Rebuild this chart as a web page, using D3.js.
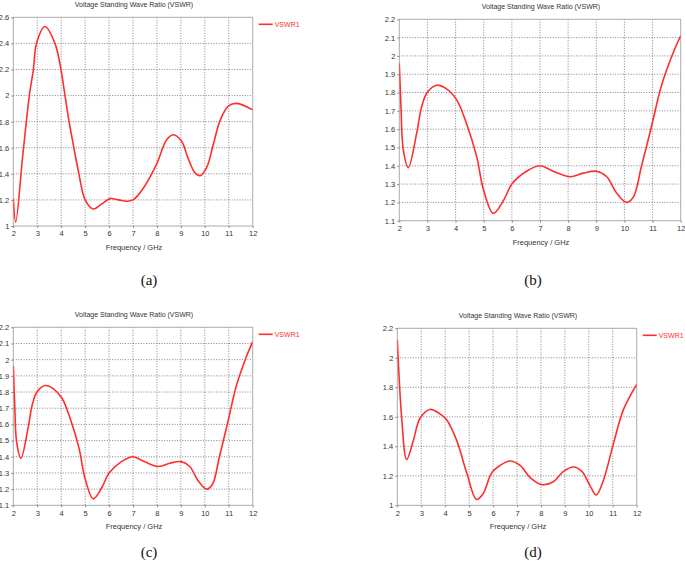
<!DOCTYPE html>
<html>
<head>
<meta charset="utf-8">
<script src="https://cdn.jsdelivr.net/npm/d3@7"></script>
<style>
body { margin: 0; background: #fff; }
svg { display: block; }
</style>
</head>
<body>
<svg id="chart" width="685" height="563"></svg>
<script>
// frequency (GHz) / VSWR samples
var freqA = [2.0, 2.1, 2.4, 2.67, 2.84, 2.97, 3.32, 3.74, 3.99, 4.16, 4.33, 4.53, 4.74, 5.0, 5.34, 5.7, 6.04, 6.4, 6.74, 7.0, 7.43, 8.0, 8.4, 8.69, 9.03, 9.3, 9.58, 9.8, 10.08, 10.36, 10.64, 10.99, 11.34, 12.0]
var vswrA = [1.21, 1.03, 1.55, 2.0, 2.2, 2.4, 2.53, 2.4, 2.2, 2.0, 1.8, 1.6, 1.4, 1.2, 1.13, 1.17, 1.21, 1.2, 1.19, 1.2, 1.29, 1.48, 1.66, 1.70, 1.65, 1.52, 1.41, 1.385, 1.45, 1.63, 1.81, 1.92, 1.94, 1.89]

var freqB = [2.0, 2.06, 2.14, 2.32, 2.62, 2.79, 2.99, 3.33, 3.68, 4.04, 4.39, 4.75, 4.99, 5.34, 5.7, 6.0, 6.52, 7.0, 7.47, 8.07, 8.54, 9.01, 9.37, 9.73, 10.08, 10.32, 10.61, 10.97, 11.32, 11.74, 12.0]
var vswrB = [1.96, 1.72, 1.49, 1.39, 1.58, 1.72, 1.80, 1.84, 1.82, 1.76, 1.63, 1.45, 1.27, 1.14, 1.21, 1.30, 1.37, 1.40, 1.37, 1.34, 1.36, 1.37, 1.34, 1.25, 1.20, 1.23, 1.40, 1.62, 1.84, 2.02, 2.11]

var freqC = freqB
var vswrC = vswrB

var freqD = [2.0, 2.05, 2.18, 2.39, 2.67, 2.95, 3.36, 3.78, 4.06, 4.48, 4.9, 5.31, 5.59, 5.94, 6.29, 6.71, 7.13, 7.54, 8.03, 8.52, 8.94, 9.36, 9.71, 10.06, 10.31, 10.61, 11.03, 11.45, 12.0]
var vswrD = [2.12, 1.95, 1.60, 1.31, 1.44, 1.59, 1.65, 1.62, 1.58, 1.44, 1.22, 1.04, 1.08, 1.22, 1.27, 1.30, 1.27, 1.19, 1.14, 1.16, 1.23, 1.26, 1.23, 1.13, 1.07, 1.17, 1.42, 1.65, 1.82]

var xTicks = [2, 3, 4, 5, 6, 7, 8, 9, 10, 11, 12]
var yTicksA = [1, 1.2, 1.4, 1.6, 1.8, 2, 2.2, 2.4, 2.6]
var yTicksB = [1.1, 1.2, 1.3, 1.4, 1.5, 1.6, 1.7, 1.8, 1.9, 2, 2.1, 2.2]
var yTicksD = [1, 1.2, 1.4, 1.6, 1.8, 2, 2.2]

var plotTitle = "Voltage Standing Wave Ratio (VSWR)"
var xTitle = "Frequency / GHz"
var seriesName = "VSWR1"
var captions = ["(a)", "(b)", "(c)", "(d)"]

var svg = d3.select("#chart")
var red = "#ff2e2e"
var font = "Liberation Sans, Arial, sans-serif"

function drawPanel(p) {
    var x = d3.scaleLinear().domain([2, 12]).range([p.left, p.right])
    var y = d3.scaleLinear().domain(p.yDomain).range([p.bottom, p.top])
    var g = svg.append("g")

    // dotted grid
    g.append("g").selectAll("line")
	.data(xTicks.slice(1, -1))
	.enter().append("line")
	.attr("x1", function(d){return x(d)})
	.attr("x2", function(d){return x(d)})
	.attr("y1", p.top).attr("y2", p.bottom)
	.attr("stroke", "#666")
	.attr("stroke-width", 0.8)
	.attr("stroke-dasharray", "1,1.6")
    g.append("g").selectAll("line")
	.data(p.yTicks.slice(1, -1))
	.enter().append("line")
	.attr("x1", p.left).attr("x2", p.right)
	.attr("y1", function(d){return y(d)})
	.attr("y2", function(d){return y(d)})
	.attr("stroke", "#666")
	.attr("stroke-width", 0.8)
	.attr("stroke-dasharray", "1,1.6")

    // frame
    g.append("rect")
	.attr("x", p.left).attr("y", p.top)
	.attr("width", p.right - p.left)
	.attr("height", p.bottom - p.top)
	.attr("fill", "none")
	.attr("stroke", "#aaa")
	.attr("stroke-width", 1)

    // axes
    var xAxis = d3.axisBottom(x).tickValues(xTicks).tickSize(2).tickPadding(3)
	.tickFormat(d3.format("d"))
    var yAxis = d3.axisLeft(y).tickValues(p.yTicks).tickSize(2).tickPadding(2)
	.tickFormat(function(d){return d3.format("~g")(d)})
    var xa = g.append("g").attr("transform", "translate(0," + p.bottom + ")").call(xAxis)
    var ya = g.append("g").attr("transform", "translate(" + p.left + ",0)").call(yAxis)
    ;[xa, ya].forEach(function(a){
	a.select(".domain").remove()
	a.selectAll("line").attr("stroke", "#888")
	a.selectAll("text").attr("font-family", font).attr("font-size", "7.5px").attr("fill", "#333")
    })

    // curve, clipped to the plot box
    var clipId = "clip" + p.caption.charAt(1)
    g.append("clipPath").attr("id", clipId)
	.append("rect")
	.attr("x", p.left).attr("y", p.top)
	.attr("width", p.right - p.left)
	.attr("height", p.bottom - p.top)
    var line = d3.line()
	.x(function(d){return x(d[0])})
	.y(function(d){return y(d[1])})
	.curve(d3.curveCatmullRom.alpha(0.5))
    g.append("path")
	.datum(d3.zip(p.freq, p.vswr))
	.attr("d", line)
	.attr("clip-path", "url(#" + clipId + ")")
	.attr("fill", "none")
	.attr("stroke", red)
	.attr("stroke-width", 1.6)

    // titles
    g.append("text")
	.attr("x", (p.left + p.right) / 2 + 1)
	.attr("y", p.top - 10)
	.attr("text-anchor", "middle")
	.attr("font-family", font).attr("font-size", "7px").attr("fill", "#333")
	.text(plotTitle)
    g.append("text")
	.attr("x", (p.left + p.right) / 2 + 1)
	.attr("y", p.bottom + 24)
	.attr("text-anchor", "middle")
	.attr("font-family", font).attr("font-size", "7.5px").attr("fill", "#333")
	.text(xTitle)

    // legend
    if (p.legend) {
	g.append("line")
	    .attr("x1", p.right + 6).attr("x2", p.right + 20)
	    .attr("y1", p.top + 7).attr("y2", p.top + 7)
	    .attr("stroke", red).attr("stroke-width", 1.6)
	g.append("text")
	    .attr("x", p.right + 22).attr("y", p.top + 9.5)
	    .attr("font-family", font).attr("font-size", "7px").attr("fill", red)
	    .text(seriesName)
    }

    svg.append("text")
	.attr("x", p.capX).attr("y", p.capY)
	.attr("text-anchor", "middle")
	.attr("font-family", "Liberation Serif, DejaVu Serif, serif")
	.attr("font-size", "15px").attr("fill", "#111")
	.text(p.caption)
}

drawPanel({left: 13.3, right: 252.7, top: 17.3, bottom: 226, yDomain: [1, 2.6], yTicks: yTicksA,
	   freq: freqA, vswr: vswrA, legend: true, caption: captions[0], capX: 149, capY: 285})
drawPanel({left: 399.3, right: 680.7, top: 19.3, bottom: 220.7, yDomain: [1.1, 2.2], yTicks: yTicksB,
	   freq: freqB, vswr: vswrB, legend: false, caption: captions[1], capX: 533, capY: 285})
drawPanel({left: 13.3, right: 252.7, top: 327.3, bottom: 505.3, yDomain: [1.1, 2.2], yTicks: yTicksB,
	   freq: freqC, vswr: vswrC, legend: true, caption: captions[2], capX: 149, capY: 557})
drawPanel({left: 397.3, right: 636.7, top: 328.3, bottom: 505.3, yDomain: [1, 2.2], yTicks: yTicksD,
	   freq: freqD, vswr: vswrD, legend: true, caption: captions[3], capX: 533, capY: 557})
</script>
</body>
</html>
